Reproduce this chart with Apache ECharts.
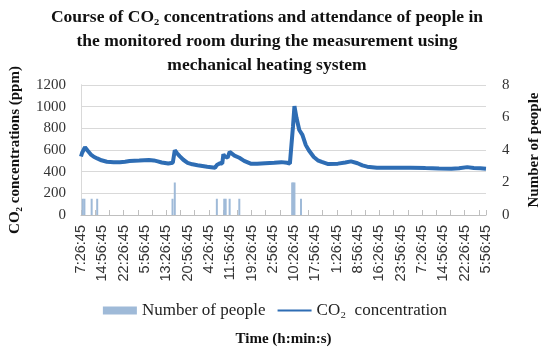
<!DOCTYPE html>
<html><head><meta charset="utf-8">
<script src="https://cdn.jsdelivr.net/npm/echarts@6/dist/echarts.min.js"></script>
<style>html,body{margin:0;padding:0;background:#fff}#c{width:550px;height:348px}</style>
</head><body><div id="c"></div>
<script>
// Tick labels (every 7.5 h of elapsed time)
const tickLabels = ["7:26:45","14:56:45","22:26:45","5:56:45","13:26:45","20:56:45","4:26:45","11:56:45","19:26:45","2:56:45","10:26:45","17:56:45","1:26:45","8:56:45","16:26:45","23:56:45","7:26:45","14:56:45","22:26:45","5:56:45"];
// CO2 line: elapsed hours since 7:26:45 and ppm
const co2Hours = [0,0.4,1.4,2.3,3.4,4.5,5.7,7.2,9.1,11.5,13.7,15.5,17.1,20.5,23.9,25.6,27.0,28.4,30.7,32.3,33.0,33.8,34.7,36.0,37.5,39.2,41.0,44.4,47.2,47.8,48.9,49.7,50.1,50.6,51.0,51.6,52.3,53.0,54.0,55.7,57.4,59.7,62.0,64.8,68.0,70.5,72.5,73.5,73.9,74.6,75.1,75.8,76.8,77.9,79.1,80.2,81.9,83.3,84.7,87.0,90.4,93.0,95.0,97.3,99.0,100.7,104.1,110.9,116.0,121.2,126.0,130.3,133.0,135.9,138.2,140.5,142.5];
const co2Values = [540,575,625,595,560,538,522,505,492,488,487,492,498,502,508,504,495,485,476,482,598,570,543,510,482,468,460,446,437,462,478,476,560,540,522,530,582,565,548,528,500,474,472,477,482,488,482,475,490,820,1005,900,785,740,645,595,535,505,490,470,474,485,495,478,458,446,436,436,437,433,430,428,432,442,433,432,428];
// Number of people: elapsed hours and counts
const peopleHours = [0.6,1.2,3.75,5.7,32.2,33.0,47.8,50.4,50.9,52.3,55.7,74.3,74.7,75.1,77.4];
const peopleCounts = [1,1,1,1,1,2,1,1,1,1,1,2,2,2,1];

const serif = '"Liberation Serif", "DejaVu Serif", serif';
const co2Data = co2Hours.map((h,i)=>[h,co2Values[i]]);
const pplData = peopleHours.map((h,i)=>[h,peopleCounts[i]]);
const maxH = (tickLabels.length-1)*7.5;

const chart = echarts.init(document.getElementById('c'));
chart.setOption({
  animation:false,
  title:{text:'Course of CO\u2082 concentrations and attendance of people in\nthe monitored room during the measurement using\nmechanical heating system',
    left:262, top:0, textAlign:'center',
    textStyle:{fontFamily:serif,fontWeight:'bold',fontSize:17.5,lineHeight:24,color:'#111'}},
  grid:{left:75,right:58,top:85,bottom:132},
  legend:{top:297,left:'center',itemGap:11,itemWidth:34,itemHeight:8,
    textStyle:{fontFamily:serif,fontSize:17,color:'#222'},
    data:[{name:'Number of people',icon:'rect'},{name:'CO\u2082  concentration',itemStyle:{opacity:0}}]},
  xAxis:[{type:'value',min:0,max:maxH,interval:7.5,position:'bottom',
    axisLine:{lineStyle:{color:'#bfbfbf'}},axisTick:{show:false},splitLine:{show:false},
    axisLabel:{rotate:90,margin:10,fontFamily:'"Liberation Sans", Arial, sans-serif',fontSize:14.5,color:'#333',
      formatter:v=>tickLabels[Math.round(v/7.5)]},
    name:'Time (h:min:s)',nameLocation:'middle',nameGap:117,
    nameTextStyle:{fontFamily:serif,fontWeight:'bold',fontSize:15,color:'#111'}},
   {type:'value',min:0,max:maxH,interval:5,position:'bottom',
    axisLine:{show:false},axisLabel:{show:false},splitLine:{show:false},
    axisTick:{show:true,inside:true,length:5,lineStyle:{color:'#bfbfbf'}}}],
  yAxis:[{type:'value',min:0,max:1200,interval:200,position:'left',
    axisLine:{show:true,lineStyle:{color:'#d9d9d9'}},axisTick:{show:false},
    splitLine:{lineStyle:{color:'#d9d9d9'}},
    axisLabel:{margin:15,fontFamily:serif,fontSize:15,color:'#333',formatter:v=>String(v)},
    name:'CO\u2082 concentrations (ppm)',nameLocation:'middle',nameRotate:90,nameGap:58,
    nameTextStyle:{fontFamily:serif,fontWeight:'bold',fontSize:15,color:'#111'}},
   {type:'value',min:0,max:8,interval:2,position:'right',
    axisLine:{show:true,lineStyle:{color:'#d9d9d9'}},axisTick:{show:false},splitLine:{show:false},
    axisLabel:{margin:16,fontFamily:serif,fontSize:15,color:'#333'},
    name:'Number of people',nameLocation:'middle',nameRotate:90,nameGap:41,
    nameTextStyle:{fontFamily:serif,fontWeight:'bold',fontSize:15,color:'#111'}}],
  series:[
   {name:'Number of people',type:'bar',xAxisIndex:0,yAxisIndex:1,data:pplData,barWidth:2,
    itemStyle:{color:'#9fbad8'}},
   {name:'CO\u2082  concentration',type:'line',xAxisIndex:0,yAxisIndex:0,data:co2Data,
    symbol:'none',lineStyle:{width:4,color:'#2e6db4'},itemStyle:{color:'#2e6db4'}}
  ]
});
</script></body></html>
